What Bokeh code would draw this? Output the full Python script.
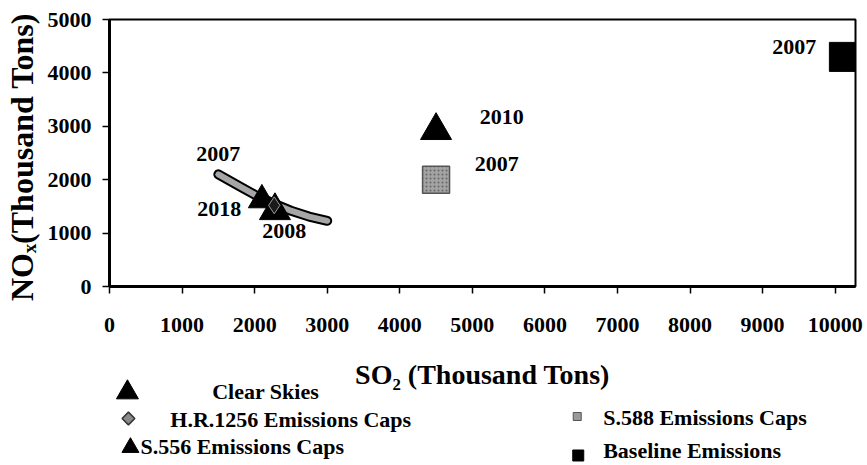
import math
from bokeh.plotting import figure
from bokeh.layouts import column
from bokeh.models import Range1d, FixedTicker
from bokeh.core.properties import value
from bokeh.embed import file_html
from bokeh.resources import INLINE

# ---- data ----
curve_so2 = [1500, 1800, 2000, 2250, 2500, 2750, 3000]
curve_nox = [2100, 1870, 1720, 1560, 1420, 1310, 1230]

clear_skies_so2 = [4500, 2100]
clear_skies_nox = [2920, 1620]
clear_skies_year = ["2010", "2018"]

hr1256_so2 = [2270]
hr1256_nox = [1520]

s556_so2 = [2280]
s556_nox = [1420]
s556_year = ["2008"]

s588_so2 = [4500]
s588_nox = [2000]
s588_year = ["2007"]

baseline_so2 = [10120]
baseline_nox = [4300]
baseline_year = ["2007"]

curve_year = ["2007"]

x_ticks = [0, 1000, 2000, 3000, 4000, 5000, 6000, 7000, 8000, 9000, 10000]
y_ticks = [0, 1000, 2000, 3000, 4000, 5000]

x_title = "SO\u2082 (Thousand Tons)"
y_title = "NO\u2093(Thousand Tons)"
legend_names = ["Clear Skies", "H.R.1256 Emissions Caps", "S.556 Emissions Caps",
                "S.588 Emissions Caps", "Baseline Emissions"]

# year-label positions (data coords)
lab_x = [1500, 1513, 2407, 5406, 5337, 9436]
lab_y = [2490, 1460, 1030, 3183, 2285, 4494]
lab_t = curve_year + [clear_skies_year[1]] + s556_year + [clear_skies_year[0]] + s588_year + baseline_year

FONT = "Liberation Serif"

# ---------------- main chart ----------------
p = figure(width=867, height=355, output_backend="svg", toolbar_location=None,
           x_range=Range1d(0, 10280), y_range=Range1d(0, 5000),
           min_border_left=107, min_border_right=12, min_border_top=19, min_border_bottom=69)
p.grid.visible = False
p.background_fill_color = "white"
p.border_fill_color = "white"
p.outline_line_color = "black"
p.outline_line_width = 2

for ax in (p.xaxis[0], p.yaxis[0]):
    ax.axis_line_width = 3
    ax.axis_line_color = "black"
    ax.major_tick_line_width = 1.5
    ax.major_tick_in = 0
    ax.major_tick_out = 7
    ax.minor_tick_line_color = None
    ax.major_label_text_font = FONT
    ax.major_label_text_font_style = "bold"
    ax.major_label_text_font_size = "22px"
    ax.major_label_text_color = "black"

p.xaxis.ticker = FixedTicker(ticks=x_ticks)
p.yaxis.ticker = FixedTicker(ticks=y_ticks)
p.xaxis.major_label_standoff = 24
p.yaxis.major_label_standoff = 11

# a trailing no-break space shifts the rotated title slightly down along the axis
p.yaxis.axis_label = y_title + "\u00a0"
p.yaxis.axis_label_text_font = FONT
p.yaxis.axis_label_text_font_style = "bold"
p.yaxis.axis_label_text_font_size = "32px"
p.yaxis.axis_label_text_color = "black"
p.yaxis.axis_label_standoff = 5

# curve
p.line(curve_so2, curve_nox, line_color="black", line_width=10, line_cap="round", line_join="round")
p.line(curve_so2, curve_nox, line_color="#a6a6a6", line_width=6, line_cap="round", line_join="round")

# markers
p.scatter(clear_skies_so2, clear_skies_nox, marker="triangle", size=[31, 27],
          fill_color="black", line_color="black")
p.scatter(s556_so2, s556_nox, marker="triangle", size=31, fill_color="black", line_color="black")
p.scatter(hr1256_so2, hr1256_nox, marker="diamond", size=17, fill_color="#1a1a1a",
          line_color="#9a9a9a", line_width=1)
p.scatter(s588_so2, s588_nox, marker="square", size=27, fill_color="#a3a3a3", line_color="#555555",
          line_width=1.5, hatch_pattern="dot", hatch_color="#666666", hatch_scale=4)
p.scatter(baseline_so2, baseline_nox, marker="square", size=29, fill_color="black", line_color="black")

p.text(x=lab_x, y=lab_y, text=lab_t, text_font=value(FONT), text_font_style="bold",
       text_font_size="22px", text_align="center", text_baseline="middle", text_color="black")

# ---------------- x title + legend strip (frame aligned with the chart frame,
# ranges chosen so that one unit = one pixel of the window) ----------------
leg = figure(width=867, height=110, output_backend="svg", toolbar_location=None,
             x_range=Range1d(107, 855), y_range=Range1d(465, 355),
             x_axis_type=None, y_axis_type=None,
             min_border_left=107, min_border_right=12, min_border_top=0, min_border_bottom=0)
leg.grid.visible = False
leg.outline_line_color = None
leg.background_fill_color = "white"
leg.border_fill_color = "white"

leg.text(x=[481], y=[374], text=[x_title], text_font=value(FONT), text_font_style="bold",
         text_font_size="28px", text_align="center", text_baseline="middle", text_color="black")

# legend swatches
leg.scatter(x=[125], y=[392], marker="triangle", size=22, fill_color="black", line_color="black")
leg.scatter(x=[126], y=[418], marker="square", angle=math.pi / 4, size=9,
            fill_color="#8a8a8a", line_color="#333333", line_width=1.5)
leg.scatter(x=[128], y=[447], marker="triangle", size=17, fill_color="black", line_color="black")
leg.scatter(x=[576], y=[416], marker="square", size=8, fill_color="#9a9a9a", line_color="#555555")
leg.scatter(x=[577], y=[455], marker="square", size=11, fill_color="black", line_color="black")

leg.text(x=[210, 168, 138, 602, 602], y=[391, 419, 446, 417, 450], text=legend_names,
         text_font=value(FONT), text_font_style="bold", text_font_size="22px",
         text_align="left", text_baseline="middle", text_color="black")

layout = column(p, leg, spacing=0)
open("out.html", "w").write(file_html(layout, INLINE))
